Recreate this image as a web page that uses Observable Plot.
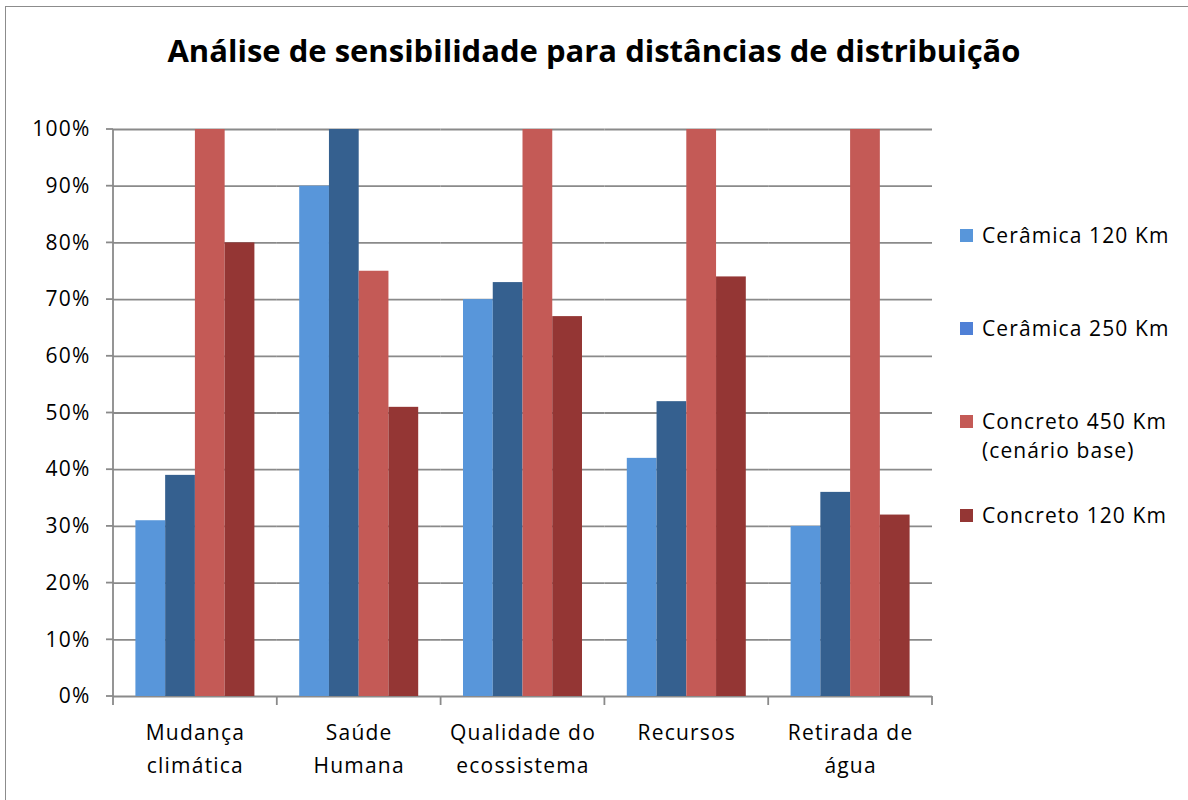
<!DOCTYPE html>
<html>
<head>
<meta charset="utf-8">
<script src="https://cdn.jsdelivr.net/npm/d3@7"></script>
<script src="https://cdn.jsdelivr.net/npm/@observablehq/plot@0.6"></script>
<style>
  html, body { margin: 0; padding: 0; background: #fff; }
  #wrap { position: relative; width: 1188px; height: 800px; background: #fff; font-family: "Open Sans", sans-serif; color: #000; overflow: hidden; }
  #border { position: absolute; left: 5px; top: 6px; width: 1190px; height: 800px; border: 1.5px solid #8c8c8c; box-sizing: border-box; }
  #chart { position: absolute; left: 0; top: 0; }
  #title { position: absolute; left: 0; width: 1188px; top: 29px; text-align: center; font-weight: bold; font-size: 31px; line-height: 42px; }
  .leg { position: absolute; left: 960px; font-size: 21px; letter-spacing: 1.1px; line-height: 29px; white-space: nowrap; }
  .sw { position: absolute; left: 0; width: 13px; height: 13px; }
  .lt { position: absolute; left: 22px; }
  svg text { letter-spacing: 1.2px; }
</style>
</head>
<body>
<div id="wrap">
  <div id="border"></div>
  <div id="chart"></div>
  <div id="title">Análise de sensibilidade para distâncias de distribuição</div>
  <div id="legend"></div>
</div>
<script>
const categories = ["Mudança climática", "Saúde Humana", "Qualidade do ecossistema", "Recursos", "Retirada de água"];
const categoryLabels = ["Mudança\nclimática", "Saúde\nHumana", "Qualidade do\necossistema", "Recursos", "Retirada de\nágua"];
const series = ["Cerâmica 120 Km", "Cerâmica 250 Km", "Concreto 450 Km (cenário base)", "Concreto 120 Km"];
const legendLabels = ["Cerâmica 120 Km", "Cerâmica 250 Km", "Concreto 450 Km\n(cenário base)", "Concreto 120 Km"];
const ceramica120 = [31, 90, 70, 42, 30];
const ceramica250 = [39, 100, 73, 52, 36];
const concreto450 = [100, 75, 100, 100, 100];
const concreto120 = [80, 51, 67, 74, 32];
const yTicks = [0, 10, 20, 30, 40, 50, 60, 70, 80, 90, 100];
const barColors = ["#5896da", "#35608f", "#c45a56", "#943634"];
const legendColors = ["#5896da", "#4f80d6", "#c45a56", "#943634"];

const seriesValues = [ceramica120, ceramica250, concreto450, concreto120];
const data = series.flatMap((s, i) => categories.map((c, j) => ({series: s, category: c, value: seriesValues[i][j]})));
const labelOf = new Map(categories.map((c, i) => [c, categoryLabels[i]]));

const chart = Plot.plot({
  width: 945,
  height: 800,
  marginLeft: 113,
  marginRight: 13,
  marginTop: 129,
  marginBottom: 104,
  style: {background: "transparent", fontFamily: "Open Sans, sans-serif", fontSize: "21px", color: "#000"},
  fx: {domain: categories, padding: 0, round: false, label: null},
  x: {domain: series, paddingInner: 0, paddingOuter: 0.753, round: false, axis: null},
  y: {domain: [0, 100], label: null},
  color: {domain: series, range: barColors},
  marks: [
    Plot.ruleY(yTicks, {stroke: "#8a8a8a", strokeWidth: 1.8}),
    Plot.barY(data, {fx: "category", x: "series", y: "value", fill: "series", inset: 0}),
    Plot.axisY({ticks: yTicks, tickFormat: d => d + "%", tickSize: 0, tickPadding: 23, fontSize: 21, label: null}),
    Plot.axisFx({anchor: "bottom", tickSize: 0, tickPadding: 20, lineHeight: 1.57, fontSize: 21, label: null, tickFormat: d => labelOf.get(d)})
  ]
});
document.getElementById("chart").appendChild(chart);

// axis lines and ticks drawn from the plot's own scales
const fx = chart.scale("fx");
const y = chart.scale("y");
const svg = d3.select(chart);
const g = svg.append("g").attr("stroke", "#8a8a8a").attr("stroke-width", 1.8);
const x0 = fx.apply(categories[0]);
const x1 = fx.apply(categories[categories.length - 1]) + fx.bandwidth;
g.append("line").attr("x1", x0).attr("x2", x0).attr("y1", y.apply(100)).attr("y2", y.apply(0));
yTicks.forEach(t => g.append("line").attr("x1", x0 - 7).attr("x2", x0).attr("y1", y.apply(t)).attr("y2", y.apply(t)));
categories.forEach(c => g.append("line").attr("x1", fx.apply(c)).attr("x2", fx.apply(c)).attr("y1", y.apply(0)).attr("y2", y.apply(0) + 9));
g.append("line").attr("x1", x1).attr("x2", x1).attr("y1", y.apply(0)).attr("y2", y.apply(0) + 9);

// legend
const legendTops = [221, 314, 407, 501];
const legend = document.getElementById("legend");
legendLabels.forEach((lab, i) => {
  const item = document.createElement("div");
  item.className = "leg";
  item.style.top = legendTops[i] + "px";
  const sw = document.createElement("div");
  sw.className = "sw";
  sw.style.background = legendColors[i];
  sw.style.top = "8px";
  const t = document.createElement("div");
  t.className = "lt";
  t.innerHTML = lab.split("\n").join("<br>");
  item.appendChild(sw);
  item.appendChild(t);
  legend.appendChild(item);
});
</script>
</body>
</html>
